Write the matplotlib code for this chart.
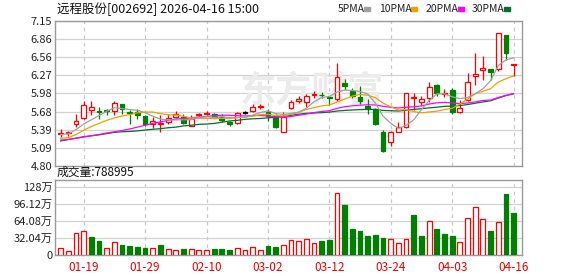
import numpy as np
import pandas as pd
import matplotlib.pyplot as plt

plt.rcParams['font.family'] = ['Noto Sans CJK SC', 'DejaVu Sans']

# trading days shown (index 0 .. 59)
dates = ['01-14', '01-15', '01-16', '01-19', '01-20', '01-21', '01-22', '01-23', '01-26', '01-27',
         '01-28', '01-29', '01-30', '02-02', '02-03', '02-04', '02-05', '02-06', '02-09', '02-10',
         '02-11', '02-12', '02-13', '02-24', '02-25', '02-26', '02-27', '03-02', '03-03', '03-04',
         '03-05', '03-06', '03-09', '03-10', '03-11', '03-12', '03-13', '03-16', '03-17', '03-18',
         '03-19', '03-20', '03-23', '03-24', '03-25', '03-26', '03-27', '03-30', '03-31', '04-01',
         '04-02', '04-03', '04-07', '04-08', '04-09', '04-10', '04-13', '04-14', '04-15', '04-16']
tick_dates = ['01-19', '01-29', '02-10', '03-02', '03-12', '03-24', '04-03', '04-16']

opens = [5.325, 5.335, 5.481, 5.572, 5.708, 5.686, 5.700, 5.697, 5.799, 5.680,
         5.670, 5.605, 5.481, 5.480, 5.519, 5.594, 5.600, 5.448, 5.630, 5.650,
         5.648, 5.589, 5.508, 5.491, 5.665, 5.697, 5.755, 5.681, 5.610, 5.356,
         5.745, 5.859, 5.832, 5.955, 5.955, 5.915, 5.886, 6.150, 6.015, 5.924,
         5.772, 5.718, 5.356, 5.194, 5.356, 5.437, 5.897, 5.843, 5.897, 6.113,
         5.975, 6.032, 5.681, 5.870, 6.264, 6.356, 6.372, 6.367, 6.923, 6.440]
highs = [5.394, 5.367, 5.643, 5.853, 5.853, 5.751, 5.724, 5.853, 5.799, 5.708,
         5.718, 5.627, 5.600, 5.630, 5.637, 5.691, 5.637, 5.627, 5.664, 5.697,
         5.664, 5.637, 5.529, 5.681, 5.691, 5.799, 5.799, 5.718, 5.637, 5.681,
         5.870, 5.934, 5.961, 6.015, 6.005, 5.934, 6.464, 6.210, 6.059, 6.096,
         5.880, 5.735, 5.383, 5.373, 5.508, 5.978, 5.978, 5.934, 6.167, 6.124,
         6.048, 6.059, 5.870, 6.302, 6.637, 6.583, 6.372, 6.960, 6.923, 6.460]
lows = [5.275, 5.291, 5.437, 5.562, 5.627, 5.556, 5.627, 5.627, 5.648, 5.481,
        5.567, 5.448, 5.421, 5.350, 5.475, 5.573, 5.481, 5.448, 5.610, 5.621,
        5.573, 5.519, 5.454, 5.481, 5.637, 5.681, 5.718, 5.529, 5.421, 5.346,
        5.718, 5.816, 5.762, 5.897, 5.897, 5.789, 5.853, 6.032, 5.897, 5.799,
        5.643, 5.470, 5.021, 5.124, 5.356, 5.421, 5.708, 5.789, 5.832, 5.940,
        5.913, 5.643, 5.665, 5.859, 6.113, 6.194, 6.194, 6.340, 6.518, 6.259]
closes = [5.335, 5.345, 5.535, 5.783, 5.751, 5.676, 5.690, 5.816, 5.724, 5.665,
          5.627, 5.481, 5.535, 5.500, 5.583, 5.637, 5.491, 5.556, 5.645, 5.660,
          5.583, 5.551, 5.475, 5.665, 5.665, 5.762, 5.765, 5.616, 5.437, 5.600,
          5.832, 5.880, 5.934, 5.965, 5.945, 5.910, 6.237, 6.096, 5.934, 5.859,
          5.718, 5.481, 5.048, 5.356, 5.437, 5.978, 5.924, 5.880, 6.075, 5.989,
          5.985, 5.681, 5.735, 6.156, 6.291, 6.394, 6.329, 6.960, 6.626, 6.450]
# volume in 万手
volumes = [14.0, 8.5, 41.7, 45.4, 34.9, 25.7, 14.0, 25.1, 18.4, 16.6,
           14.7, 12.9, 14.0, 18.4, 11.6, 10.4, 11.1, 12.2, 10.4, 10.4,
           11.1, 11.1, 9.2, 14.0, 10.4, 15.9, 10.4, 16.6, 15.3, 19.6,
           27.5, 25.7, 30.6, 23.3, 25.7, 27.5, 117.1, 95.6, 49.7, 46.0,
           36.8, 38.6, 32.5, 30.6, 23.3, 30.6, 75.4, 36.8, 63.7, 49.7,
           40.4, 35.6, 23.9, 69.3, 91.4, 67.4, 46.0, 61.9, 115.8, 78.8995]

# moving average values before enough history exists
ma5_head = [5.31, 5.32, 5.39, 5.48]
ma10_head = [5.25, 5.26, 5.31, 5.38, 5.44, 5.49, 5.54, 5.58, 5.61]
ma20_head = [5.22, 5.23, 5.25, 5.27, 5.29, 5.31, 5.335, 5.355, 5.375, 5.40,
             5.43, 5.46, 5.49, 5.515, 5.54, 5.56, 5.57, 5.58, 5.595]
ma30_head = [5.205, 5.23, 5.25, 5.275, 5.29, 5.305, 5.325, 5.345, 5.355, 5.36,
             5.37, 5.383, 5.395, 5.405, 5.42, 5.43, 5.45, 5.46, 5.475, 5.48,
             5.49, 5.51, 5.53, 5.54, 5.556, 5.565, 5.57, 5.58, 5.59]

price_ticks = ['4.80', '5.09', '5.39', '5.68', '5.98', '6.27', '6.56', '6.86', '7.15']
vol_ticks = [0, 32.04, 64.08, 96.12, 128.16]
vol_tick_labels = ['0', '32.04万', '64.08万', '96.12万', '128万']

RED = '#ff0000'
GREEN = '#008000'
W, H = 578, 276

x = np.arange(len(dates))
o = np.array(opens)
c = np.array(closes)
prev = np.concatenate([[c[0]], c[:-1]])

cand_col = []
for i in range(len(x)):
    if c[i] > o[i]:
        cand_col.append(RED)
    elif c[i] < o[i]:
        cand_col.append(GREEN)
    else:
        cand_col.append(RED if c[i] > prev[i] else (GREEN if c[i] < prev[i] else '#000000'))
vol_col = [RED if c[i] >= prev[i] else GREEN for i in range(len(x))]

s = pd.Series(closes)
mas = {}
for n, head in [(5, ma5_head), (10, ma10_head), (20, ma20_head), (30, ma30_head)]:
    m = s.rolling(n).mean().values
    m[:len(head)] = head
    mas[n] = m

fig = plt.figure(figsize=(W / 100, H / 100), dpi=100)
ax = fig.add_axes([55 / W, (H - 166) / H, 467 / W, 145 / H])
axv = fig.add_axes([55 / W, (H - 255) / H, 467 / W, 75 / H])

# candles
ax.vlines(x, lows, highs, colors=cand_col, lw=0.9, zorder=2)
body_h = np.maximum(np.abs(c - o), 0.006)
body_b = np.minimum(o, c)
faces = ['white' if col == RED else col for col in cand_col]
ax.bar(x, body_h, bottom=body_b, width=0.62, color=faces, edgecolor=cand_col,
       lw=0.9, zorder=3)

ma_colors = {5: '#a0a0a0', 10: '#f0a000', 20: '#ff00ff', 30: '#006f33'}
for n in [30, 20, 10, 5]:
    ax.plot(x, mas[n], color=ma_colors[n], lw=0.9, zorder=4)

ax.text(0.55, 0.52, '东方财富', transform=ax.transAxes, fontsize=26, color='#ebebeb',
        ha='center', va='center', fontweight='bold', style='italic', zorder=1)

# volume
vfaces = ['white' if col == RED else col for col in vol_col]
axv.bar(x, volumes, width=0.62, color=vfaces, edgecolor=vol_col, lw=0.9, zorder=3)

tick_idx = [dates.index(d) for d in tick_dates]
for a in (ax, axv):
    a.set_xlim(-0.74, 60.1)
    a.set_xticks(tick_idx)
    a.grid(axis='x', color='#c8c8c8', ls=(0, (3, 3)), lw=0.9)
    a.grid(axis='y', color='#d2d2d2', lw=0.9)
    a.set_axisbelow(True)
    a.tick_params(length=0, labelsize=8, colors='#222222', pad=2)
    for sp in a.spines.values():
        sp.set_color('#9a9a9a')
        sp.set_linewidth(1)

ax.set_ylim(4.80, 7.15)
ax.set_yticks([float(t) for t in price_ticks])
ax.set_yticklabels(price_ticks)
ax.set_xticklabels([])

axv.set_ylim(0, 142)
axv.set_yticks(vol_ticks)
axv.set_yticklabels(vol_tick_labels)
axv.set_xticklabels(tick_dates, color='#ee0000', fontsize=8.5)
axv.tick_params(axis='x', pad=4)

fig.text(57 / W, 1 - 9 / H, '远程股份[002692] 2026-04-16 15:00', fontsize=9,
         va='center', ha='left', color='#111111')
fig.text(57 / W, 1 - 179 / H, '成交量:' + str(int(round(volumes[-1] * 10000))),
         fontsize=8.5, va='bottom', ha='left', color='#111111')

legend_items = [('5PMA', 338, ma_colors[5]), ('10PMA', 379, ma_colors[10]),
                ('20PMA', 426, ma_colors[20]), ('30PMA', 472, ma_colors[30])]
for lab, px, col in legend_items:
    t = fig.text(px / W, 1 - 9 / H, lab, fontsize=7.5, va='center', ha='left',
                 color='#222222')
    end = px + 6.2 * len(lab) + 1
    fig.patches.append(plt.Rectangle((end / W, 1 - 11 / H), 6 / W, 4 / H,
                                     transform=fig.transFigure, color=col, figure=fig))

plt.savefig('out.png', dpi=100)
